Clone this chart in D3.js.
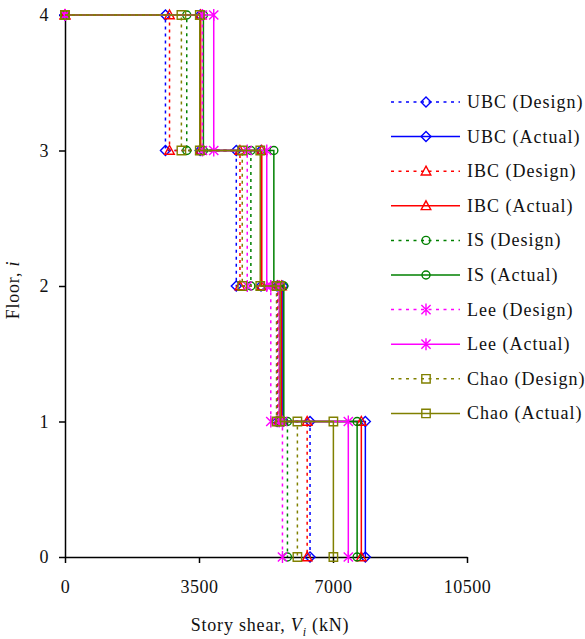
<!DOCTYPE html>
<html>
<head>
<meta charset="utf-8">
<script src="https://cdn.jsdelivr.net/npm/d3@7"></script>
<style>
  html, body { margin: 0; padding: 0; background: #fff; }
  svg { display: block; }
  text { font-family: "Liberation Serif", "Times New Roman", serif; fill: #111; }
</style>
</head>
<body>
<svg id="chart" width="585" height="639"></svg>
<script>
// Floors (roof = 4) and the story shear of each story, top story first (V4, V3, V2, V1), in kN
const floors = [4, 3, 2, 1, 0];
const xTicks = [0, 3500, 7000, 10500];
const yTicks = [0, 1, 2, 3, 4];

const ubcDesign  = [2624, 4474, 5540, 6400];
const ubcActual  = [3530, 5120, 5690, 7845];
const ibcDesign  = [2730, 4570, 5560, 6325];
const ibcActual  = [3545, 5140, 5655, 7740];
const isDesign   = [3180, 4855, 5600, 5810];
const isActual   = [3615, 5455, 5715, 7630];
const leeDesign  = [3590, 4760, 5375, 5680];
const leeActual  = [3885, 5270, 5595, 7400];
const chaoDesign = [3040, 4630, 5525, 6070];
const chaoActual = [3520, 5100, 5620, 7010];

const seriesNames = ["UBC (Design)", "UBC (Actual)", "IBC (Design)", "IBC (Actual)",
  "IS (Design)", "IS (Actual)", "Lee (Design)", "Lee (Actual)", "Chao (Design)", "Chao (Actual)"];
const seriesValues = [ubcDesign, ubcActual, ibcDesign, ibcActual, isDesign, isActual,
  leeDesign, leeActual, chaoDesign, chaoActual];
const seriesColors = ["#0000ff", "#0000ff", "#ff0000", "#ff0000", "#008000", "#008000",
  "#ff00ff", "#ff00ff", "#808000", "#808000"];
const seriesMarkers = ["diamond", "diamond", "triangle", "triangle", "circle", "circle",
  "star", "star", "square", "square"];

const svg = d3.select("#chart");
const x = d3.scaleLinear().domain([0, 10500]).range([65, 467]);
const y = d3.scaleLinear().domain([0, 4]).range([557, 15]);

// Step profile: shear is constant within each story, so the line steps at every floor
function stepPoints(v) {
  const pts = [[0, floors[0]]];
  v.forEach((s, i) => {
    pts.push([s, floors[i]]);
    pts.push([s, floors[i + 1]]);
  });
  return pts;
}

const markerPaths = {
  diamond: "M0,-5L5,0L0,5L-5,0Z",
  triangle: "M0,-5L4.8,3.8L-4.8,3.8Z",
  circle: d3.arc()({innerRadius: 0, outerRadius: 4, startAngle: 0, endAngle: 2 * Math.PI}),
  square: "M-4.2,-4.2H4.2V4.2H-4.2Z",
  star: "M-4.6,-4.6L4.6,4.6M-4.6,4.6L4.6,-4.6M0,-6V6"
};

function drawMarker(g, type, color, cx, cy) {
  g.append("path")
    .attr("d", markerPaths[type])
    .attr("transform", `translate(${cx},${cy})`)
    .attr("fill", "none")
    .attr("stroke", color)
    .attr("stroke-width", 1.4);
}

// Axes
const xAxis = svg.append("g")
  .attr("transform", `translate(0,${y(0)})`)
  .call(d3.axisBottom(x).tickValues(xTicks).tickSize(6).tickSizeOuter(0).tickPadding(17)
    .tickFormat(d3.format("d")));
const yAxis = svg.append("g")
  .attr("transform", `translate(${x(0)},0)`)
  .call(d3.axisLeft(y).tickValues(yTicks).tickSize(6).tickSizeOuter(0).tickPadding(10)
    .tickFormat(d3.format("d")));

[xAxis, yAxis].forEach(a => {
  a.selectAll("path, line").attr("stroke", "#000").attr("stroke-width", 1.5);
  a.selectAll("text").attr("font-size", 18).attr("font-family", "Liberation Serif")
    .attr("fill", "#111").attr("letter-spacing", "0.5px");
});

// Series
const line = d3.line().x(d => x(d[0])).y(d => y(d[1]));
const plot = svg.append("g");
seriesValues.forEach((v, i) => {
  const g = plot.append("g");
  const dashed = i % 2 === 0;
  const pts = stepPoints(v);
  g.append("path")
    .attr("d", line(pts))
    .attr("fill", "none")
    .attr("stroke", seriesColors[i])
    .attr("stroke-width", 1.5)
    .attr("stroke-dasharray", dashed ? "3,4" : null);
  pts.forEach(p => drawMarker(g, seriesMarkers[i], seriesColors[i], x(p[0]), y(p[1])));
});

// Legend
const legend = svg.append("g");
seriesNames.forEach((name, i) => {
  const ly = 102 + i * 34.6;
  const g = legend.append("g");
  g.append("line")
    .attr("x1", 391).attr("x2", 460).attr("y1", ly).attr("y2", ly)
    .attr("stroke", seriesColors[i]).attr("stroke-width", 1.5)
    .attr("stroke-dasharray", i % 2 === 0 ? "3,4.5" : null);
  drawMarker(g, seriesMarkers[i], seriesColors[i], 426, ly);
  g.append("text")
    .attr("x", 467).attr("y", ly + 6)
    .attr("font-size", 18).attr("letter-spacing", "1px")
    .text(name);
});

// Axis titles
const xt = svg.append("text")
  .attr("x", 270).attr("y", 631)
  .attr("text-anchor", "middle")
  .attr("font-size", 18).attr("letter-spacing", "0.8px");
xt.append("tspan").text("Story shear, ");
xt.append("tspan").attr("font-style", "italic").text("V");
xt.append("tspan").attr("font-style", "italic").attr("font-size", 12).attr("dy", 5).text("i");
xt.append("tspan").attr("dy", -5).text(" (kN)");

const yt = svg.append("text")
  .attr("transform", "translate(19,290) rotate(-90)")
  .attr("text-anchor", "middle")
  .attr("font-size", 18).attr("letter-spacing", "0.8px");
yt.append("tspan").text("Floor, ");
yt.append("tspan").attr("font-style", "italic").text("i");
</script>
</body>
</html>
